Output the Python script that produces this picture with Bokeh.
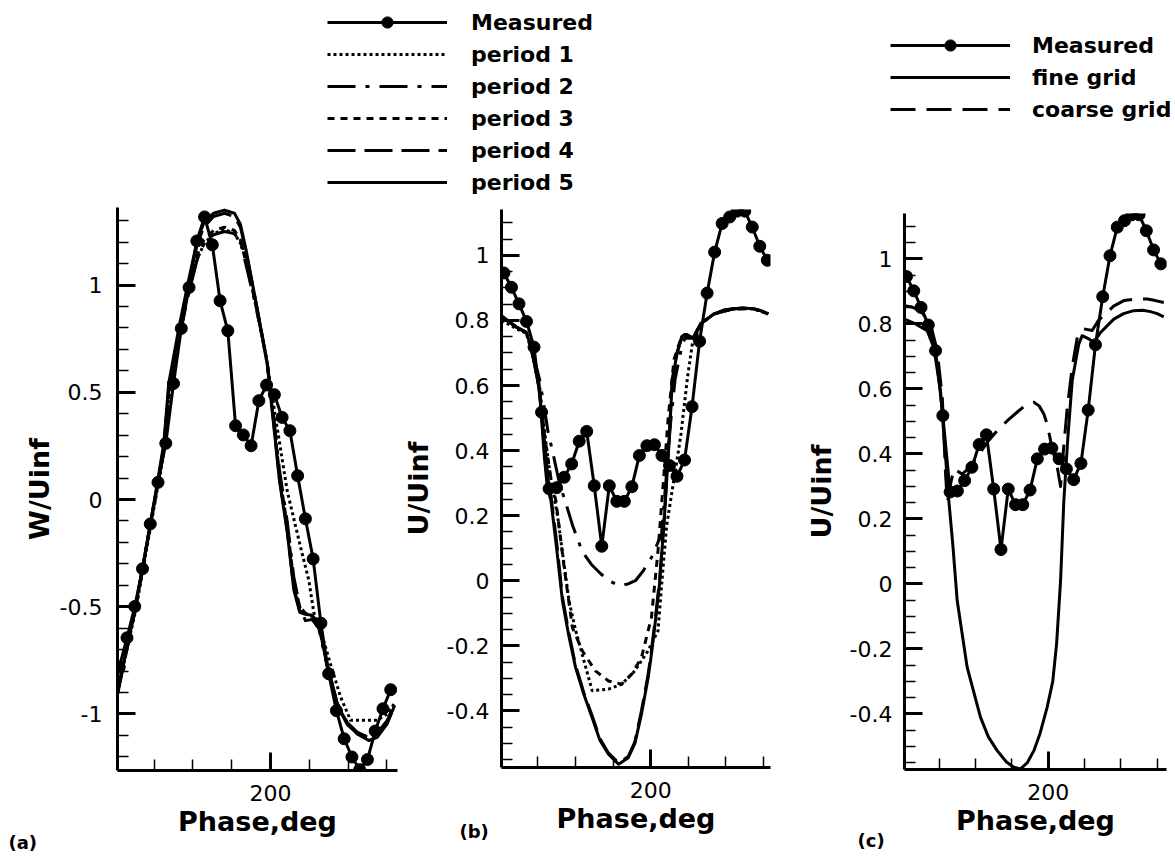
import numpy as np
from bokeh.plotting import figure
from bokeh.layouts import column, row
from bokeh.models import (Range1d, FixedTicker, CustomJSTickFormatter, Legend,
                          LegendItem, Title)
from bokeh.embed import file_html
from bokeh.resources import INLINE

# ---------------- data ----------------
PHASE_MEAS = [122, 126, 130, 134, 138, 142, 146, 150, 154, 158, 162, 166,
              170, 174, 178, 182, 186, 190, 194, 198, 202, 206, 210, 214,
              218, 222, 226, 230, 234, 238, 242, 246, 250, 254, 258, 262]

A_MEAS = [-0.782, -0.645, -0.499, -0.323, -0.114, 0.080, 0.262, 0.541, 0.798,
          0.989, 1.206, 1.318, 1.188, 0.927, 0.787, 0.344, 0.301, 0.251, 0.461,
          0.534, 0.489, 0.383, 0.321, 0.111, -0.090, -0.277, -0.577, -0.813,
          -0.985, -1.116, -1.201, -1.260, -1.213, -1.080, -0.976, -0.887]

BC_MEAS = [0.946, 0.902, 0.851, 0.797, 0.718, 0.518, 0.283, 0.286, 0.318,
           0.359, 0.429, 0.459, 0.292, 0.106, 0.292, 0.244, 0.244, 0.289,
           0.385, 0.415, 0.418, 0.385, 0.354, 0.321, 0.371, 0.535, 0.736,
           0.884, 1.010, 1.098, 1.118, 1.136, 1.136, 1.087, 1.028, 0.985]

# panel (a) computed periods
A_PHASE = [121.1, 125.7, 130.4, 134.0, 138.1, 141.7, 145.0, 147.5, 152.7, 157.0,
           162.2, 165.6, 170.6, 176.3, 181.4, 184.5, 187.5, 191.4, 194.8, 198.3,
           201.5, 204.6, 208.6, 212.0, 215.1, 218.0, 221.5, 224.9, 229.2, 234.4,
           239.6, 244.7, 250.7, 255.0, 260.2, 264.0]
A_P5 = [-0.90, -0.70, -0.50, -0.32, -0.11, 0.08, 0.262, 0.541, 0.798, 0.99,
        1.21, 1.29, 1.335, 1.35, 1.335, 1.284, 1.16, 0.973, 0.81, 0.632,
        0.36, 0.09, -0.15, -0.42, -0.526, -0.535, -0.54, -0.58, -0.766, -0.953,
        -1.046, -1.093, -1.124, -1.109, -1.046, -0.96]
A_P4 = [-0.91, -0.71, -0.51, -0.33, -0.12, 0.07, 0.25, 0.52, 0.78, 0.98,
        1.19, 1.27, 1.32, 1.335, 1.32, 1.27, 1.15, 0.97, 0.81, 0.64,
        0.37, 0.10, -0.14, -0.41, -0.52, -0.53, -0.545, -0.59, -0.77, -0.95,
        -1.04, -1.085, -1.11, -1.10, -1.04, -0.96]
A_P3 = [-0.90, -0.70, -0.50, -0.32, -0.11, 0.07, 0.24, 0.50, 0.76, 0.95,
        1.14, 1.21, 1.255, 1.27, 1.255, 1.21, 1.10, 0.95, 0.80, 0.64,
        0.38, 0.12, -0.12, -0.38, -0.50, -0.53, -0.55, -0.59, -0.77, -0.95,
        -1.045, -1.09, -1.115, -1.10, -1.04, -0.96]
A_P2 = [-0.90, -0.70, -0.50, -0.32, -0.12, 0.06, 0.23, 0.48, 0.74, 0.93,
        1.12, 1.19, 1.235, 1.25, 1.24, 1.20, 1.09, 0.94, 0.80, 0.64,
        0.40, 0.14, -0.10, -0.36, -0.50, -0.565, -0.56, -0.60, -0.78, -0.96,
        -1.05, -1.09, -1.11, -1.09, -1.03, -0.95]
A_P1_PHASE = [121.1, 125.7, 130.4, 134.0, 138.1, 141.7, 145.0, 147.5, 152.7,
              157.0, 162.2, 165.6, 170.6, 176.3, 181.4, 185.6, 191.2, 198.3,
              203.0, 208.6, 215.5, 219.8, 222.3, 225.8, 230.9, 236.1, 241.3,
              245.0, 250.0, 255.0, 260.2, 264.0]
A_P1 = [-0.90, -0.71, -0.52, -0.34, -0.13, 0.05, 0.22, 0.44, 0.74, 0.95, 1.12,
        1.19, 1.24, 1.26, 1.24, 1.18, 0.98, 0.632, 0.36, 0.041, -0.222, -0.378,
        -0.526, -0.61, -0.766, -0.92, -1.03, -1.03, -1.03, -1.03, -1.0, -0.95]

# panel (b) computed periods
B_P5_PHASE = [120.7, 128.6, 133.9, 136.5, 140.9, 143.5, 145.0, 147.0, 150.0,
              153.1, 156.5, 160.1, 164.5, 168.9, 173.0, 177.6, 182.9, 188.1,
              191.6, 195.1, 198.6, 200.4, 202.6, 204.7, 207.3, 209.8, 211.5,
              214.0, 216.6, 218.2, 222.4, 226.6, 233.6, 239.0, 244.1, 249.0,
              254.6, 258.5, 262.5]
B_P5 = [0.815, 0.78, 0.764, 0.718, 0.585, 0.379, 0.29, 0.246, 0.10, -0.062,
        -0.17, -0.267, -0.35, -0.421, -0.49, -0.533, -0.564, -0.544, -0.50,
        -0.41, -0.30, -0.226, -0.12, -0.01, 0.195, 0.43, 0.615, 0.70, 0.75,
        0.757, 0.745, 0.79, 0.82, 0.832, 0.836, 0.838, 0.836, 0.83, 0.82]
B_P4 = [0.812, 0.78, 0.762, 0.716, 0.59, 0.40, 0.31, 0.26, 0.12, -0.05,
        -0.16, -0.26, -0.345, -0.415, -0.485, -0.53, -0.56, -0.54, -0.495,
        -0.40, -0.29, -0.215, -0.11, 0.0, 0.20, 0.44, 0.62, 0.70, 0.75,
        0.757, 0.745, 0.79, 0.82, 0.832, 0.836, 0.838, 0.836, 0.83, 0.82]
B_P3_PHASE = [120.7, 128.6, 133.9, 136.5, 140.9, 143.5, 146.5, 149.6, 154.0,
              158.4, 163.6, 170.6, 177.6, 184.6, 189.9, 195.1, 200.4, 203.9,
              206.7, 209.3, 212.4, 216.1, 222.4, 226.6, 233.6, 244.1, 254.6,
              262.5]
B_P3 = [0.81, 0.78, 0.762, 0.715, 0.59, 0.45, 0.33, 0.246, 0.041, -0.144,
        -0.215, -0.277, -0.308, -0.318, -0.287, -0.236, -0.113, 0.092, 0.30,
        0.50, 0.68, 0.745, 0.745, 0.79, 0.82, 0.836, 0.836, 0.82]
B_P2_PHASE = [120.7, 128.6, 133.9, 136.5, 140.9, 143.5, 145.3, 148.5, 151.5,
              155.0, 158.5, 163.6, 168.5, 173.7, 178.0, 183.0, 188.0, 191.9,
              196.0, 200.5, 205.8, 208.0, 210.5, 213.0, 216.5, 219.0, 223.0,
              226.6, 233.6, 244.1, 254.6, 262.5]
B_P2 = [0.81, 0.78, 0.762, 0.72, 0.62, 0.53, 0.462, 0.38, 0.30, 0.236, 0.17,
        0.09, 0.05, 0.02, 0.0, -0.015, -0.01, 0.0, 0.03, 0.072, 0.144, 0.30,
        0.48, 0.62, 0.72, 0.757, 0.745, 0.79, 0.82, 0.836, 0.836, 0.82]
B_P1_PHASE = [120.7, 128.6, 133.9, 136.5, 140.9, 143.5, 146.5, 150.6, 153.5,
              156.6, 160.0, 163.6, 168.9, 177.6, 184.6, 191.6, 198.6, 203.9,
              206.0, 208.5, 211.5, 214.0, 216.1, 219.6, 222.3, 224.0, 226.6,
              233.6, 244.1, 254.6, 262.5]
B_P1 = [0.80, 0.775, 0.76, 0.71, 0.60, 0.46, 0.33, 0.195, 0.07, -0.062, -0.15,
        -0.226, -0.338, -0.333, -0.318, -0.277, -0.215, -0.154, 0.0, 0.17,
        0.28, 0.37, 0.451, 0.626, 0.733, 0.749, 0.79, 0.82, 0.836, 0.836, 0.82]

# panel (c) grids
C_FINE_PHASE = [120.9, 127.0, 133.4, 137.0, 140.7, 143.5, 145.3, 147.5, 149.9,
                155.4, 162.7, 167.0, 171.9, 177.0, 181.1, 184.8, 188.5, 192.1,
                195.5, 199.4, 202.5, 204.6, 206.8, 208.6, 210.8, 213.2, 216.8,
                218.7, 222.0, 225.1, 228.8, 236.1, 241.5, 247.1, 252.0, 256.3,
                260.0, 263.6]
C_FINE = [0.815, 0.80, 0.779, 0.728, 0.595, 0.39, 0.256, 0.12, -0.051, -0.257,
          -0.41, -0.47, -0.513, -0.548, -0.564, -0.569, -0.55, -0.513, -0.46,
          -0.38, -0.30, -0.185, 0.01, 0.256, 0.45, 0.626, 0.738, 0.764, 0.755,
          0.743, 0.774, 0.815, 0.832, 0.841, 0.842, 0.838, 0.832, 0.822]
C_COARSE_PHASE = [120.9, 125.0, 129.7, 135.2, 138.9, 141.7, 143.5, 144.5, 146.0,
                  148.0, 152.7, 157.0, 162.0, 167.0, 172.8, 178.0, 183.8, 188.0,
                  192.1, 195.0, 197.6, 199.5, 201.3, 203.0, 205.0, 206.8, 208.5,
                  210.5, 213.2, 216.0, 219.6, 224.2, 227.5, 231.5, 236.0, 241.6,
                  248.0, 254.5, 259.0, 263.6]
C_COARSE = [0.856, 0.852, 0.841, 0.80, 0.718, 0.574, 0.338, 0.25, 0.30, 0.354,
            0.338, 0.36, 0.40, 0.44, 0.477, 0.505, 0.533, 0.552, 0.559, 0.548,
            0.523, 0.49, 0.441, 0.40, 0.359, 0.30, 0.42, 0.543, 0.667, 0.759,
            0.785, 0.78, 0.81, 0.831, 0.855, 0.872, 0.877, 0.877, 0.872, 0.866]

LEGEND_AB = ["Measured", "period 1", "period 2", "period 3", "period 4", "period 5"]
LEGEND_C = ["Measured", "fine grid", "coarse grid"]

# ---------------- styles ----------------
FONT = "DejaVu Sans"
LW = 3
DASH = {"solid": "solid", "p1": "3 3", "p2": "28 10 4 10", "p3": "7 6",
        "p4": "28 9", "coarse": "25 11"}
MSIZE = 12
FIG_H = 658


def base_fig(width, xr, yr, mbl, mbr, mbt, mbb, ylabel, yticks, yminor,
             ylab_standoff, tick_standoff):
    p = figure(width=width, height=FIG_H, x_range=Range1d(*xr), y_range=Range1d(*yr),
               toolbar_location=None, output_backend="svg",
               min_border_left=mbl, min_border_right=mbr,
               min_border_top=mbt, min_border_bottom=mbb)
    p.frame_align = False
    p.grid.visible = False
    p.outline_line_color = None
    p.background_fill_color = "white"
    p.border_fill_color = "white"
    p.xaxis.ticker = FixedTicker(ticks=[200], minor_ticks=[140, 160, 180, 200, 220, 240, 260])
    p.yaxis.ticker = FixedTicker(ticks=yticks, minor_ticks=yminor)
    p.xaxis.formatter = CustomJSTickFormatter(code="return String(Math.round(tick*100)/100);")
    p.yaxis.formatter = CustomJSTickFormatter(code="return String(Math.round(tick*100)/100);")
    for ax in (p.xaxis[0], p.yaxis[0]):
        ax.axis_line_width = 3
        ax.axis_line_color = "black"
        ax.major_tick_in = 18
        ax.major_tick_out = 0
        ax.minor_tick_in = 11
        ax.minor_tick_out = 0
        ax.major_tick_line_width = 3
        ax.minor_tick_line_width = 1.5
        ax.major_tick_line_color = "black"
        ax.minor_tick_line_color = "black"
        ax.major_label_text_font = FONT
        ax.major_label_text_font_size = "22px"
        ax.major_label_text_color = "black"
        ax.axis_label_text_font = FONT
        ax.axis_label_text_font_style = "bold"
        ax.axis_label_text_font_size = "27px"
        ax.axis_label_text_color = "black"
    p.xaxis.axis_label = "Phase,deg"
    p.xaxis.major_label_standoff = 14
    p.xaxis.axis_label_standoff = 2
    p.yaxis.axis_label = ylabel
    p.yaxis.major_label_standoff = tick_standoff
    p.yaxis.axis_label_standoff = ylab_standoff
    return p


def add_measured(p, yvals):
    p.line(PHASE_MEAS, yvals, line_color="black", line_width=LW)
    p.scatter(PHASE_MEAS, yvals, marker="circle", size=MSIZE,
              fill_color="black", line_color="black")


def add_curve(p, xs, ys, dash):
    p.line(xs, ys, line_color="black", line_width=LW, line_dash=DASH[dash],
           line_join="round")


def panel_label(p, text, offset, standoff):
    p.add_layout(Title(text=text, align="left", offset=offset, standoff=standoff,
                       vertical_align="top", text_font=FONT, text_font_style="bold",
                       text_font_size="18px", text_color="black"), "below")


# ---------------- panel (a) ----------------
ya_minor = np.round(np.arange(-1.2, 1.35, 0.1), 2).tolist()
pa = base_fig(399, (121.1, 265.5), (-1.264, 1.362), 117, 2, 9, 86, "W/Uinf",
              [-1, -0.5, 0, 0.5, 1], ya_minor, 2, 15)
add_curve(pa, A_P1_PHASE, A_P1, "p1")
add_curve(pa, A_PHASE, A_P2, "p2")
add_curve(pa, A_PHASE, A_P3, "p3")
add_curve(pa, A_PHASE, A_P4, "p4")
add_curve(pa, A_PHASE, A_P5, "solid")
add_measured(pa, A_MEAS)
panel_label(pa, "(a)", -109, -16)

# ---------------- panel (b) ----------------
ybc_minor = np.round(np.arange(-0.55, 1.13, 0.05), 3).tolist()
ybc_major = [-0.4, -0.2, 0, 0.2, 0.4, 0.6, 0.8, 1]
pb = base_fig(391, (120.7, 263.7), (-0.574, 1.141), 99, 20, 11, 89, "U/Uinf",
              ybc_major, ybc_minor, 10, 12)
add_curve(pb, B_P1_PHASE, B_P1, "p1")
add_curve(pb, B_P2_PHASE, B_P2, "p2")
add_curve(pb, B_P3_PHASE, B_P3, "p3")
add_curve(pb, B_P5_PHASE, B_P4, "p4")
add_curve(pb, B_P5_PHASE, B_P5, "solid")
add_measured(pb, BC_MEAS)
panel_label(pb, "(b)", -42, -31)

# ---------------- panel (c) ----------------
pc = base_fig(380, (120.9, 265.1), (-0.571, 1.140), 114, 4, 15, 87, "U/Uinf",
              ybc_major, ybc_minor, 10, 12)
add_curve(pc, C_COARSE_PHASE, C_COARSE, "coarse")
add_curve(pc, C_FINE_PHASE, C_FINE, "solid")
add_measured(pc, BC_MEAS)
panel_label(pc, "(c)", -47, -17)

# ---------------- legends (top strip) ----------------
top = figure(width=1170, height=198, x_range=Range1d(0, 1), y_range=Range1d(0, 1),
             toolbar_location=None, output_backend="svg",
             x_axis_location=None, y_axis_location=None,
             min_border_left=0, min_border_right=0, min_border_top=0,
             min_border_bottom=0)
top.frame_align = False
top.grid.visible = False
top.outline_line_color = None

NAN = [float("nan")]


def legend_items(labels, dashes):
    items = []
    for lab, d in zip(labels, dashes):
        rs = [top.line(NAN, NAN, line_color="black", line_width=LW,
                       line_dash=DASH[d])]
        if lab == "Measured":
            rs.append(top.scatter(NAN, NAN, marker="circle", size=MSIZE,
                                  fill_color="black", line_color="black"))
        items.append(LegendItem(label=lab, renderers=rs))
    return items


def make_legend(items, loc, standoff):
    lg = Legend(items=items, location=loc, orientation="vertical",
                glyph_width=120, glyph_height=28, label_height=28,
                label_standoff=standoff, spacing=4, padding=0, margin=0,
                border_line_color=None, background_fill_alpha=0,
                label_text_font=FONT, label_text_font_style="bold",
                label_text_font_size="22px", label_text_color="black")
    top.add_layout(lg, "center")


make_legend(legend_items(LEGEND_AB, ["solid", "p1", "p2", "p3", "p4", "solid"]),
            (327, 2), 24)
make_legend(legend_items(LEGEND_C, ["solid", "solid", "coarse"]), (890, 75), 22)

layout = column(top, row(pa, pb, pc, spacing=0), spacing=0)
open("out.html", "w").write(file_html(layout, INLINE))
